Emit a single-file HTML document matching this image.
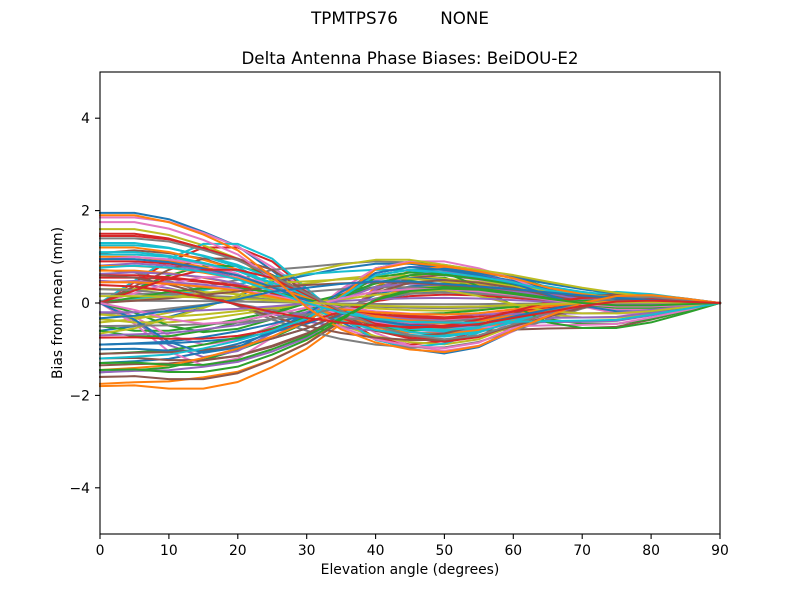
<!DOCTYPE html>
<html><head><meta charset="utf-8"><style>
html,body{margin:0;padding:0;background:#fff;width:800px;height:600px;overflow:hidden}
svg{display:block}
text{font-family:"DejaVu Sans","Liberation Sans",sans-serif;fill:#000}
.ln{fill:none;stroke-width:2;vector-effect:non-scaling-stroke;stroke-linejoin:round;stroke-linecap:square}
</style></head><body>
<svg width="800" height="600" viewBox="0 0 800 600" xmlns="http://www.w3.org/2000/svg" xmlns:xlink="http://www.w3.org/1999/xlink">
<defs>
<polyline id="P" class="ln" points="0,1 5,1 10,0.93 15,0.79 20,0.63 25,0.36 30,0.06 35,-0.21 40,-0.4 45,-0.51 50,-0.56 55,-0.49 60,-0.31 65,-0.15 70,0 75,0.08 80,0.09 85,0.05 90,0"/>
<polyline id="Pa" class="ln" points="0,1 5,1 10,0.92 15,0.78 20,0.6 25,0.3 30,-0.05 35,-0.3 40,-0.45 45,-0.53 50,-0.56 55,-0.49 60,-0.31 65,-0.15 70,0 75,0.08 80,0.09 85,0.05 90,0"/>
<polyline id="Pb" class="ln" points="0,1 5,1 10,0.95 15,0.82 20,0.66 25,0.42 30,0.15 35,-0.12 40,-0.35 45,-0.5 50,-0.56 55,-0.5 60,-0.33 65,-0.16 70,0 75,0.08 80,0.09 85,0.05 90,0"/>
<polyline id="N" class="ln" points="0,-1 5,-0.99 10,-1.03 15,-1.03 20,-0.95 25,-0.77 30,-0.55 35,-0.25 40,0.05 45,0.2 50,0.24 55,0.22 60,0.15 65,0.07 70,0 75,-0.04 80,-0.04 85,-0.02 90,0"/>
<polyline id="Na" class="ln" points="0,-1 5,-0.98 10,-0.97 15,-0.92 20,-0.85 25,-0.7 30,-0.5 35,-0.2 40,0.2 45,0.4 50,0.45 55,0.4 60,0.3 65,0.15 70,0.03 75,-0.05 80,-0.05 85,-0.03 90,0"/>
<polyline id="N2" class="ln" points="0,-1 5,-0.97 10,-0.93 15,-0.82 20,-0.68 25,-0.5 30,-0.28 35,0.1 40,0.5 45,0.6 50,0.55 55,0.47 60,0.37 65,0.23 70,0.13 75,0.07 80,0.03 85,0.01 90,0"/>
<polyline id="R" class="ln" points="0,0.9 5,0.95 10,0.9 15,0.8 20,0.6 25,0.3 30,0 35,-0.25 40,-0.4 45,-0.48 50,-0.5 55,-0.5 60,-0.48 65,-0.46 70,-0.45 75,-0.43 80,-0.3 85,-0.15 90,0"/>
<polyline id="D" class="ln" points="0,0 5,0.3 10,0.6 15,0.8 20,0.8 25,0.6 30,0.2 35,-0.2 40,-0.5 45,-0.6 50,-0.55 55,-0.4 60,-0.2 65,0.02 70,0.12 75,0.15 80,0.12 85,0.06 90,0"/>
<polyline id="E" class="ln" points="0,0 5,-0.3 10,-0.7 15,-0.9 20,-0.8 25,-0.5 30,-0.2 35,0.2 40,0.5 45,0.6 50,0.6 55,0.5 60,0.35 65,0.15 70,-0.05 75,-0.15 80,-0.15 85,-0.08 90,0"/>
<polyline id="G" class="ln" points="0,0 5,0.1 10,0.2 15,0.35 20,0.5 25,0.72 30,0.78 35,0.85 40,0.9 45,0.88 50,0.78 55,0.7 60,0.58 65,0.45 70,0.3 75,0.2 80,0.12 85,0.05 90,0"/>
<polyline id="G2" class="ln" points="0,-0.6 5,-0.5 10,-0.3 15,-0.1 20,0.15 25,0.45 30,0.6 35,0.75 40,0.85 45,0.85 50,0.75 55,0.65 60,0.55 65,0.42 70,0.3 75,0.2 80,0.12 85,0.05 90,0"/>
<polyline id="G3" class="ln" points="0,0.6 5,0.55 10,0.4 15,0.2 20,-0.05 25,-0.3 30,-0.5 35,-0.65 40,-0.75 45,-0.8 50,-0.8 55,-0.7 60,-0.5 65,-0.3 70,-0.1 75,0.05 80,0.08 85,0.04 90,0"/>
<polyline id="Q" class="ln" points="0,-0.5 5,-0.6 10,-0.6 15,-0.5 20,-0.35 25,-0.2 30,0 35,0.15 40,0.35 45,0.5 50,0.55 55,0.3 60,-0.05 65,-0.35 70,-0.45 75,-0.45 80,-0.35 85,-0.18 90,0"/>
</defs>

<g transform="translate(100,303) scale(6.888889,-46.2)">
<use xlink:href="#P" href="#P" transform="scale(1,1.95)" stroke="#1f77b4"/>
<use xlink:href="#N" href="#N" transform="scale(1,1.8)" stroke="#ff7f0e"/>
<use xlink:href="#N2" href="#N2" transform="scale(1,1.5)" stroke="#2ca02c"/>
<use xlink:href="#D" href="#D" transform="scale(1,1.5)" stroke="#d62728"/>
<use xlink:href="#E" href="#E" transform="scale(1,1.3)" stroke="#9467bd"/>
<use xlink:href="#R" href="#R" transform="scale(1,1.2)" stroke="#8c564b"/>
<use xlink:href="#Pb" href="#Pb" transform="scale(1,1.85)" stroke="#e377c2"/>
<use xlink:href="#G" href="#G" transform="scale(1,1.0)" stroke="#7f7f7f"/>
<use xlink:href="#Pa" href="#Pa" transform="scale(1,1.6)" stroke="#bcbd22"/>
<use xlink:href="#D" href="#D" transform="scale(1,1.6)" stroke="#17becf"/>
<use xlink:href="#G2" href="#G2" transform="scale(1,1.0)" stroke="#1f77b4"/>
<use xlink:href="#Na" href="#Na" transform="scale(1,1.75)" stroke="#ff7f0e"/>
<use xlink:href="#Q" href="#Q" transform="scale(1,1.0)" stroke="#2ca02c"/>
<use xlink:href="#Pb" href="#Pb" transform="scale(1,1.45)" stroke="#d62728"/>
<use xlink:href="#G3" href="#G3" transform="scale(1,0.8)" stroke="#9467bd"/>
<use xlink:href="#N" href="#N" transform="scale(1,1.6)" stroke="#8c564b"/>
<use xlink:href="#E" href="#E" transform="scale(1,1.0)" stroke="#e377c2"/>
<use xlink:href="#P" href="#P" transform="scale(1,0.2)" stroke="#7f7f7f"/>
<use xlink:href="#G2" href="#G2" transform="scale(1,0.7)" stroke="#bcbd22"/>
<use xlink:href="#G" href="#G" transform="scale(1,0.8)" stroke="#17becf"/>
<use xlink:href="#N2" href="#N2" transform="scale(1,1.3)" stroke="#1f77b4"/>
<use xlink:href="#Pa" href="#Pa" transform="scale(1,1.2)" stroke="#ff7f0e"/>
<use xlink:href="#D" href="#D" transform="scale(1,1.0)" stroke="#2ca02c"/>
<use xlink:href="#Pb" href="#Pb" transform="scale(1,0.9)" stroke="#d62728"/>
<use xlink:href="#R" href="#R" transform="scale(1,0.9)" stroke="#9467bd"/>
<use xlink:href="#Na" href="#Na" transform="scale(1,1.35)" stroke="#8c564b"/>
<use xlink:href="#E" href="#E" transform="scale(1,1.5)" stroke="#e377c2"/>
<use xlink:href="#G3" href="#G3" transform="scale(1,1.2)" stroke="#7f7f7f"/>
<use xlink:href="#Q" href="#Q" transform="scale(1,0.7)" stroke="#bcbd22"/>
<use xlink:href="#P" href="#P" transform="scale(1,1.1)" stroke="#17becf"/>
<use xlink:href="#Na" href="#Na" transform="scale(1,0.9)" stroke="#1f77b4"/>
<use xlink:href="#Pa" href="#Pa" transform="scale(1,0.7)" stroke="#ff7f0e"/>
<use xlink:href="#N2" href="#N2" transform="scale(1,1.1)" stroke="#2ca02c"/>
<use xlink:href="#Pb" href="#Pb" transform="scale(1,0.55)" stroke="#d62728"/>
<use xlink:href="#R" href="#R" transform="scale(1,0.7)" stroke="#9467bd"/>
<use xlink:href="#N" href="#N" transform="scale(1,1.2)" stroke="#8c564b"/>
<use xlink:href="#D" href="#D" transform="scale(1,0.7)" stroke="#e377c2"/>
<use xlink:href="#G2" href="#G2" transform="scale(1,0.4)" stroke="#7f7f7f"/>
<use xlink:href="#P" href="#P" transform="scale(1,0.3)" stroke="#bcbd22"/>
<use xlink:href="#Pb" href="#Pb" transform="scale(1,1.25)" stroke="#17becf"/>
<use xlink:href="#N2" href="#N2" transform="scale(1,0.9)" stroke="#1f77b4"/>
<use xlink:href="#Pa" href="#Pa" transform="scale(1,1.0)" stroke="#ff7f0e"/>
<use xlink:href="#E" href="#E" transform="scale(1,0.7)" stroke="#2ca02c"/>
<use xlink:href="#P" href="#P" transform="scale(1,1.5)" stroke="#d62728"/>
<use xlink:href="#Na" href="#Na" transform="scale(1,1.5)" stroke="#9467bd"/>
<use xlink:href="#D" href="#D" transform="scale(1,1.2)" stroke="#8c564b"/>
<use xlink:href="#R" href="#R" transform="scale(1,1.05)" stroke="#e377c2"/>
<use xlink:href="#G3" href="#G3" transform="scale(1,0.5)" stroke="#7f7f7f"/>
<use xlink:href="#G" href="#G" transform="scale(1,0.6)" stroke="#bcbd22"/>
<use xlink:href="#Pa" href="#Pa" transform="scale(1,1.3)" stroke="#17becf"/>
<use xlink:href="#N" href="#N" transform="scale(1,1.0)" stroke="#1f77b4"/>
<use xlink:href="#Pb" href="#Pb" transform="scale(1,0.8)" stroke="#ff7f0e"/>
<use xlink:href="#Q" href="#Q" transform="scale(1,1.2)" stroke="#2ca02c"/>
<use xlink:href="#P" href="#P" transform="scale(1,0.6)" stroke="#d62728"/>
<use xlink:href="#N2" href="#N2" transform="scale(1,0.7)" stroke="#9467bd"/>
<use xlink:href="#Na" href="#Na" transform="scale(1,1.1)" stroke="#8c564b"/>
<use xlink:href="#Pa" href="#Pa" transform="scale(1,1.75)" stroke="#e377c2"/>
<use xlink:href="#P" href="#P" transform="scale(1,0.05)" stroke="#7f7f7f"/>
<use xlink:href="#G2" href="#G2" transform="scale(1,1.1)" stroke="#bcbd22"/>
<use xlink:href="#Pb" href="#Pb" transform="scale(1,1.05)" stroke="#17becf"/>
<use xlink:href="#E" href="#E" transform="scale(1,1.2)" stroke="#1f77b4"/>
<use xlink:href="#N2" href="#N2" transform="scale(1,1.45)" stroke="#ff7f0e"/>
<use xlink:href="#D" href="#D" transform="scale(1,0.4)" stroke="#2ca02c"/>
<use xlink:href="#N" href="#N" transform="scale(1,0.75)" stroke="#d62728"/>
<use xlink:href="#R" href="#R" transform="scale(1,0.5)" stroke="#9467bd"/>
<use xlink:href="#G3" href="#G3" transform="scale(1,1.0)" stroke="#8c564b"/>
<use xlink:href="#P" href="#P" transform="scale(1,0.45)" stroke="#e377c2"/>
<use xlink:href="#Na" href="#Na" transform="scale(1,0.5)" stroke="#7f7f7f"/>
<use xlink:href="#Q" href="#Q" transform="scale(1,0.5)" stroke="#bcbd22"/>
<use xlink:href="#N2" href="#N2" transform="scale(1,1.2)" stroke="#17becf"/>
<use xlink:href="#P" href="#P" transform="scale(1,0.95)" stroke="#1f77b4"/>
<use xlink:href="#Pa" href="#Pa" transform="scale(1,0.45)" stroke="#ff7f0e"/>
<use xlink:href="#N" href="#N" transform="scale(1,1.45)" stroke="#2ca02c"/>
<use xlink:href="#D" href="#D" transform="scale(1,0.9)" stroke="#d62728"/>
<use xlink:href="#P" href="#P" transform="scale(1,-0.2)" stroke="#9467bd"/>
<use xlink:href="#G" href="#G" transform="scale(1,0.5)" stroke="#8c564b"/>
<use xlink:href="#E" href="#E" transform="scale(1,0.5)" stroke="#e377c2"/>
<use xlink:href="#Pb" href="#Pb" transform="scale(1,1.4)" stroke="#7f7f7f"/>
<use xlink:href="#P" href="#P" transform="scale(1,0.15)" stroke="#bcbd22"/>
<use xlink:href="#R" href="#R" transform="scale(1,0.85)" stroke="#17becf"/>
<use xlink:href="#G2" href="#G2" transform="scale(1,0.55)" stroke="#1f77b4"/>
<use xlink:href="#Pa" href="#Pa" transform="scale(1,1.9)" stroke="#ff7f0e"/>
<use xlink:href="#N" href="#N" transform="scale(1,1.3)" stroke="#2ca02c"/>
<use xlink:href="#G3" href="#G3" transform="scale(1,0.65)" stroke="#d62728"/>
</g>

<!-- axes frame -->
<rect x="100" y="72" width="620" height="462" fill="none" stroke="#000" stroke-width="1.1"/>

<!-- ticks -->
<g stroke="#000" stroke-width="1.1">
<line x1="100" y1="534" x2="100" y2="539"/>
<line x1="168.9" y1="534" x2="168.9" y2="539"/>
<line x1="237.8" y1="534" x2="237.8" y2="539"/>
<line x1="306.7" y1="534" x2="306.7" y2="539"/>
<line x1="375.6" y1="534" x2="375.6" y2="539"/>
<line x1="444.4" y1="534" x2="444.4" y2="539"/>
<line x1="513.3" y1="534" x2="513.3" y2="539"/>
<line x1="582.2" y1="534" x2="582.2" y2="539"/>
<line x1="651.1" y1="534" x2="651.1" y2="539"/>
<line x1="720" y1="534" x2="720" y2="539"/>
<line x1="95" y1="118.2" x2="100" y2="118.2"/>
<line x1="95" y1="210.6" x2="100" y2="210.6"/>
<line x1="95" y1="303" x2="100" y2="303"/>
<line x1="95" y1="395.4" x2="100" y2="395.4"/>
<line x1="95" y1="487.8" x2="100" y2="487.8"/>
</g>

<g font-size="13.9" text-anchor="middle">
<text x="100" y="555">0</text>
<text x="168.9" y="555">10</text>
<text x="237.8" y="555">20</text>
<text x="306.7" y="555">30</text>
<text x="375.6" y="555">40</text>
<text x="444.4" y="555">50</text>
<text x="513.3" y="555">60</text>
<text x="582.2" y="555">70</text>
<text x="651.1" y="555">80</text>
<text x="720" y="555">90</text>
</g>
<g font-size="13.9" text-anchor="end">
<text x="90" y="123.2">4</text>
<text x="90" y="215.6">2</text>
<text x="90" y="308">0</text>
<text x="90" y="400.4">−2</text>
<text x="90" y="492.8">−4</text>
</g>

<text x="410" y="574" font-size="13.9" text-anchor="middle">Elevation angle (degrees)</text>
<text transform="translate(62,303) rotate(-90)" font-size="13.9" text-anchor="middle">Bias from mean (mm)</text>

<text x="400" y="24" font-size="16.7" text-anchor="middle" style="white-space:pre" xml:space="preserve">TPMTPS76        NONE</text>
<text x="410" y="64" font-size="16.7" text-anchor="middle">Delta Antenna Phase Biases: BeiDOU-E2</text>
</svg>
</body></html>
